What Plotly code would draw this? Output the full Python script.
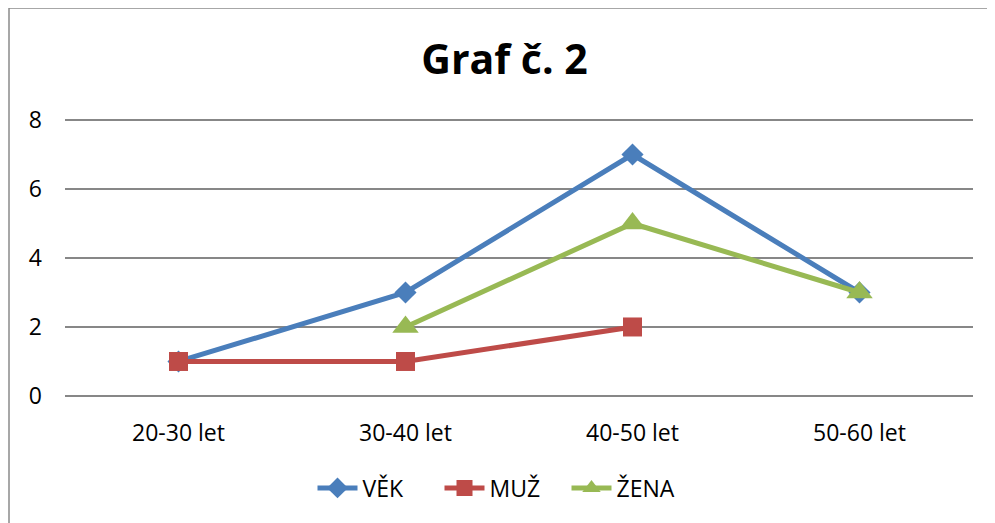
import plotly.graph_objects as go

categories = ["20-30 let", "30-40 let", "40-50 let", "50-60 let"]
vek = [1, 3, 7, 3]
muz = [1, 1, 2, None]
zena = [None, 2, 5, 3]
series_names = ["VĚK", "MUŽ", "ŽENA"]
y_ticks = [0, 2, 4, 6, 8]

W, H = 995, 523
OFF = 8  # page body margin offset
L = 65 - OFF
R = W - (973 - OFF)
T = 119 - OFF
B = H - (397 - OFF)
pw, ph = W - L - R, H - T - B
Y0, Y1 = -0.03, 8.03

def px_x(p):
    return (p - OFF - L) / pw

def px_y(p):
    return (H - B - (p - OFF)) / ph

fig = go.Figure()
fig.add_trace(go.Scatter(x=categories, y=vek, name=series_names[0], mode="lines+markers",
                         line=dict(color="#4A7EBB", width=5),
                         marker=dict(symbol="diamond", size=17, color="#4A7EBB")))
fig.add_trace(go.Scatter(x=categories, y=muz, name=series_names[1], mode="lines+markers",
                         line=dict(color="#BE4B48", width=5),
                         marker=dict(symbol="square", size=19, color="#BE4B48")))
fig.add_trace(go.Scatter(x=categories, y=zena, name=series_names[2], mode="lines+markers",
                         line=dict(color="#98B954", width=5),
                         marker=dict(symbol="triangle-up", size=23, color="#98B954")))

fig.update_layout(
    width=W, height=H,
    margin=dict(l=L, r=R, t=T, b=B),
    paper_bgcolor="white", plot_bgcolor="white",
    font=dict(family="Open Sans", size=23, color="black"),
    title=dict(text="<b>Graf č. 2</b>", x=(504.5 - OFF) / W, xref="container", xanchor="center",
               y=1 - (60 - OFF) / H, yref="container", yanchor="middle",
               font=dict(family="Open Sans", size=41, color="black")),
    showlegend=True,
    legend=dict(orientation="h", x=px_x(503), xanchor="center", y=px_y(488), yanchor="middle",
                font=dict(size=23), itemwidth=40, entrywidth=72, entrywidthmode="pixels",
                traceorder="normal"),
    xaxis=dict(type="category", range=[-0.5, 3.5], showgrid=False, showline=False,
               ticks="", zeroline=False, fixedrange=True, ticklabelstandoff=20),
    yaxis=dict(range=[Y0, Y1], tickvals=y_ticks, showgrid=True, gridcolor="#878787",
               gridwidth=1.5, showline=False, zeroline=False, ticks="",
               ticklabelstandoff=22),
    shapes=[dict(type="rect", xref="paper", yref="paper",
                 x0=px_x(9), x1=px_x(1200), y0=px_y(8), y1=px_y(800),
                 line=dict(color="#8a8a8a", width=1.5), layer="below")],
)

fig.write_html("out.html")
